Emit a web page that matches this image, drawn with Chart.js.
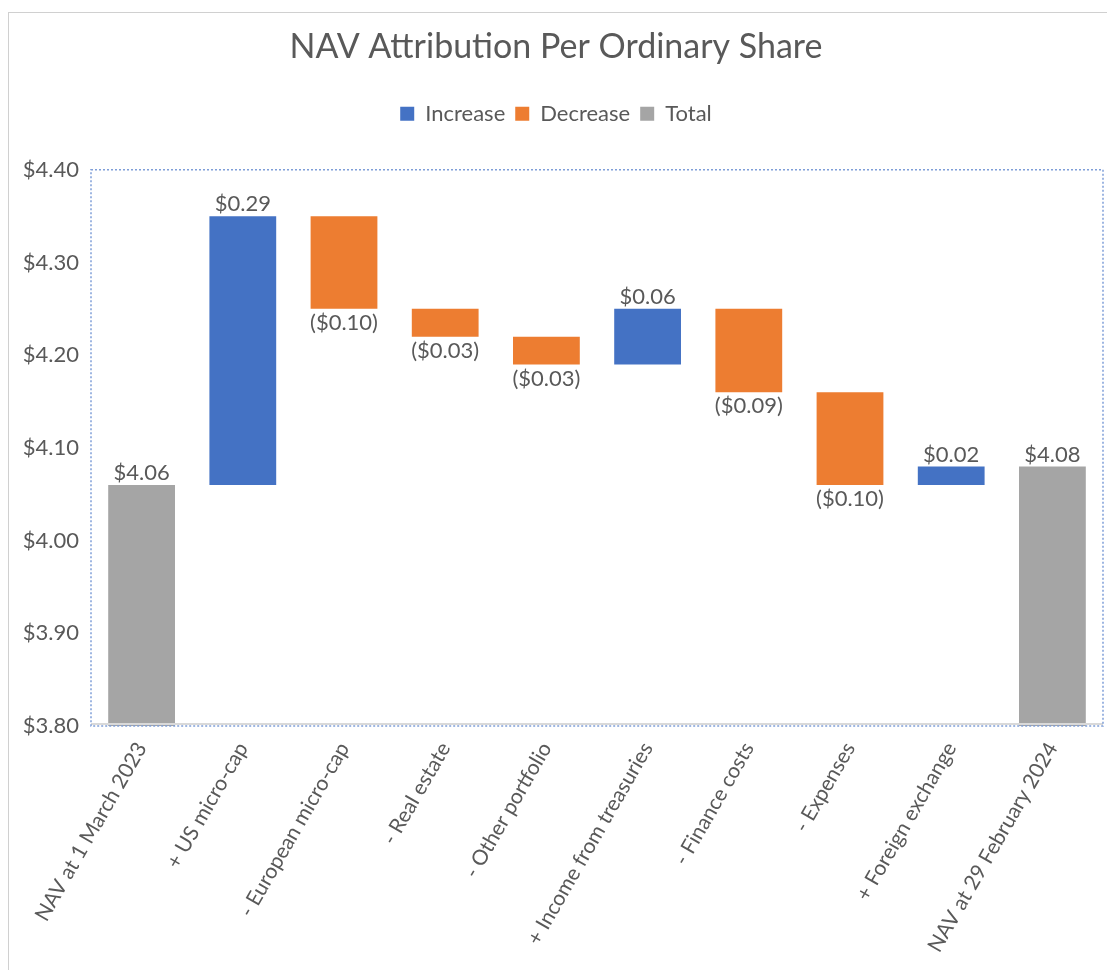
<!DOCTYPE html>
<html>
<head>
<meta charset="utf-8">
<script src="https://cdn.jsdelivr.net/npm/chart.js@4.4.1/dist/chart.umd.min.js"></script>
<style>
  html, body { margin:0; padding:0; background:#fff; overflow:hidden; }
  #frame { position:absolute; left:8px; top:12px; width:1120px; height:980px; border:1px solid #d0d0d0; box-sizing:border-box; }
  #wrap { position:absolute; left:9px; top:13px; width:1098px; height:957px; }
</style>
</head>
<body>
<div id="frame"></div>
<div id="wrap"><canvas id="nav"></canvas></div>
<script>
// categories and movements (per share, $)
const categories = [
  'NAV at 1 March 2023', '+ US micro-cap', '- European micro-cap', '- Real estate',
  '- Other portfolio', '+ Income from treasuries', '- Finance costs', '- Expenses',
  '+ Foreign exchange', 'NAV at 29 February 2024'
];
const changes = [4.06, 0.29, -0.10, -0.03, -0.03, 0.06, -0.09, -0.10, 0.02, 4.08];
const kinds = ['total', 'inc', 'dec', 'dec', 'dec', 'inc', 'dec', 'dec', 'inc', 'total'];
const yTicks = [3.80, 3.90, 4.00, 4.10, 4.20, 4.30, 4.40];

const BLUE = '#4472c4', ORANGE = '#ed7d31', GREY = '#a5a5a5', TEXT = '#595959';
const FONT = 'Lato, "Liberation Sans", sans-serif';

// floating ranges for the waterfall
let running = 0;
const ranges = changes.map((v, i) => {
  if (kinds[i] === 'total') { running = v; return [0, v]; }
  const start = running;
  running = Math.round((running + v) * 100) / 100;
  return [start, running];
});
const pick = k => ranges.map((r, i) => kinds[i] === k ? r : null);

function money(v){
  const s = '$' + Math.abs(v).toFixed(2);
  return v < 0 ? '(' + s + ')' : s;
}

// extra room under the legend, like the excel layout
const legendGap = {
  id: 'legendGap',
  beforeInit(chart){
    const fit = chart.legend.fit;
    chart.legend.fit = function(){ fit.bind(chart.legend)(); this.height += 35; };
  }
};

const decor = {
  id: 'decor',
  afterDatasetsDraw(chart){
    const ctx = chart.ctx, a = chart.chartArea;
    ctx.save();
    // category axis line
    ctx.strokeStyle = '#d9d9d9';
    ctx.lineWidth = 2;
    ctx.beginPath();
    ctx.moveTo(a.left, a.bottom - 2);
    ctx.lineTo(a.right, a.bottom - 2);
    ctx.stroke();
    // labels
    ctx.font = '22px ' + FONT;
    ctx.fillStyle = TEXT;
    ctx.textAlign = 'center';
    chart.data.datasets.forEach((ds, di) => {
      chart.getDatasetMeta(di).data.forEach((el, i) => {
        if (ds.data[i] == null) return;
        const top = Math.min(el.y, el.base), bot = Math.max(el.y, el.base);
        if (kinds[i] === 'dec') {
          ctx.textBaseline = 'top';
          ctx.fillText(money(changes[i]), el.x, bot + 3);
        } else {
          ctx.textBaseline = 'bottom';
          ctx.fillText(money(changes[i]), el.x, top - 1);
        }
      });
    });
    // selected plot area outline
    ctx.strokeStyle = '#7f9ed8';
    ctx.lineWidth = 1.5;
    ctx.setLineDash([2, 2]);
    ctx.strokeRect(a.left, a.top, a.right - a.left, a.bottom - a.top);
    ctx.restore();
  }
};

new Chart(document.getElementById('nav'), {
  type: 'bar',
  data: {
    labels: categories,
    datasets: [
      { label: 'Increase', data: pick('inc'), backgroundColor: BLUE },
      { label: 'Decrease', data: pick('dec'), backgroundColor: ORANGE },
      { label: 'Total', data: pick('total'), backgroundColor: GREY }
    ]
  },
  options: {
    responsive: true,
    maintainAspectRatio: false,
    animation: false,
    layout: { padding: { left: 0, right: 4, top: 0, bottom: 0 } },
    datasets: { bar: { grouped: false, categoryPercentage: 1, barPercentage: 0.66 } },
    plugins: {
      title: {
        display: true, text: 'NAV Attribution Per Ordinary Share',
        color: TEXT, font: { family: FONT, size: 34, weight: 'normal' },
        padding: { top: 14, bottom: 25 }
      },
      legend: {
        labels: {
          color: TEXT, font: { family: FONT, size: 22 },
          boxWidth: 14, boxHeight: 14, padding: 10
        }
      },
      tooltip: { enabled: false }
    },
    scales: {
      x: {
        grid: { display: false, drawTicks: false },
        border: { display: false },
        ticks: {
          color: TEXT, font: { family: FONT, size: 21 },
          minRotation: 60, maxRotation: 60, autoSkip: false, padding: 12
        },
        afterFit(s){ s.height = 244; }
      },
      y: {
        min: 3.8, max: 4.4,
        afterBuildTicks(s){ s.ticks = yTicks.map(v => ({ value: v })); },
        grid: { display: false, drawTicks: false },
        border: { display: false },
        ticks: {
          color: TEXT, font: { family: FONT, size: 22 }, padding: 12,
          callback: v => '$' + Number(v).toFixed(2)
        },
        afterFit(s){ s.width = 82; }
      }
    }
  },
  plugins: [legendGap, decor]
});
</script>
</body>
</html>
